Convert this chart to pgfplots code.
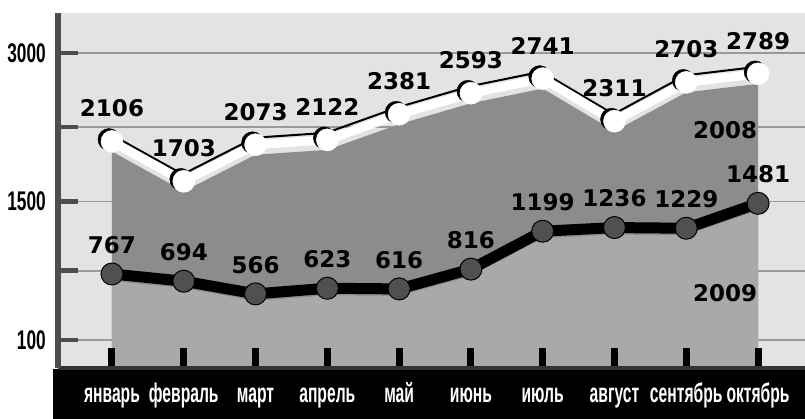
\documentclass[border=0pt]{standalone}
\usepackage{pgfplots}
\pgfplotsset{compat=1.18}
\usepackage{pgfplotstable}
\usepackage{fontspec}
\setmainfont{Liberation Sans}
\newfontfamily\condfont{Liberation Sans}[FakeStretch=0.58]
\newfontfamily\ytfont{Liberation Sans}[FakeStretch=0.64]
\newfontfamily\labfont{DejaVu Sans}

\definecolor{bgc}{HTML}{E3E3E3}
\definecolor{area08}{HTML}{8C8C8C}
\definecolor{area09}{HTML}{A9A9A9}
\definecolor{gridc}{HTML}{9A9A9A}
\definecolor{axgray}{HTML}{4D4D4D}
\definecolor{mark09}{HTML}{505050}

\pgfplotstableread{
x y08 y09
0 2106 767
1 1703 694
2 2073 566
3 2122 623
4 2381 616
5 2593 816
6 2741 1199
7 2311 1236
8 2703 1229
9 2789 1481
}\data

\pgfplotsset{
  /pgfplots/layers/mylayers/.define layer set={
    axis background,axis grid,pre main,main,axis ticks,axis lines,axis tick labels,axis descriptions,axis foreground
  }{/pgfplots/layers/standard},
}

\begin{document}
\begin{tikzpicture}
\fill[black] (53pt,0pt) rectangle (805pt,50pt);
\begin{axis}[
  set layers=mylayers,
  at={(58pt,51pt)}, anchor=south west,
  scale only axis,
  width=747pt, height=355pt,
  xmin=-0.752, xmax=9.654,
  ymin=-183, ymax=3404,
  axis background/.style={fill=bgc},
  axis x line*=bottom, axis y line*=left,
  x axis line style={-, line width=4pt, color=black!80},
  y axis line style={-, line width=6pt, color=axgray},
  xtick={0,...,9},
  xticklabels={январь,февраль,март,апрель,май,июнь,июль,август,сентябрь,октябрь},
  ytick={100,800,1500,2250,3000},
  yticklabels={100,{},1500,{},3000},
  tick align=inside,
  major tick length=20pt,
  xtick style={black, line width=7pt},
  ytick style={axgray, line width=4.5pt},
  ymajorgrids,
  grid style={gridc, line width=1.8pt},
  xticklabel style={font=\condfont\bfseries\fontsize{27}{27}\selectfont, text=white, anchor=base, yshift=-35pt},
  yticklabel style={font=\ytfont\bfseries\fontsize{27}{27}\selectfont, text=black, anchor=east, inner sep=0pt, xshift=-12pt},
  clip=true,
]
% areas
\addplot[fill=area08, draw=none, yshift=-10pt] table[x=x,y=y08]{\data} -- (axis cs:9,-600) -- (axis cs:0,-600) -- cycle;
\addplot[fill=area09, draw=none, yshift=-7pt] table[x=x,y=y09]{\data} -- (axis cs:9,-600) -- (axis cs:0,-600) -- cycle;
% 2009 line
\addplot[black, line width=11pt, line join=round, mark=*, mark size=11pt,
  mark options={fill=mark09, draw=black, line width=1pt}] table[x=x,y=y09]{\data};
% 2008 line with dark edge
\addplot[black, line width=2pt, yshift=7pt, xshift=-1pt] table[x=x,y=y08]{\data};
\addplot[only marks, mark=*, mark size=11pt, mark options={fill=black, draw=black}, xshift=-3pt, yshift=2pt] table[x=x,y=y08]{\data};
\addplot[white, line width=9pt, line join=round, mark=*, mark size=11pt,
  mark options={fill=white, draw=white, line width=0.5pt}] table[x=x,y=y08]{\data};
% value labels
\addplot[draw=none, mark=none, point meta=explicit symbolic,
  nodes near coords={\pgfplotspointmeta},
  every node near coord/.append style={font=\labfont\bfseries\fontsize{23}{23}\selectfont, text=black, anchor=center, inner sep=0pt, yshift=33pt}]
  table[x=x,y=y08,meta=y08]{\data};
\addplot[draw=none, mark=none, point meta=explicit symbolic,
  nodes near coords={\pgfplotspointmeta},
  every node near coord/.append style={font=\labfont\bfseries\fontsize{23}{23}\selectfont, text=black, anchor=center, inner sep=0pt, yshift=29pt}]
  table[x=x,y=y09,meta=y09]{\data};
\node[font=\labfont\bfseries\fontsize{23}{23}\selectfont, inner sep=0pt] at (axis cs:8.54,2222) {2008};
\node[font=\labfont\bfseries\fontsize{23}{23}\selectfont, inner sep=0pt] at (axis cs:8.54,575) {2009};
\end{axis}
\pgfresetboundingbox
\path (0pt,0pt) rectangle (805pt,419pt);
\end{tikzpicture}
\end{document}
